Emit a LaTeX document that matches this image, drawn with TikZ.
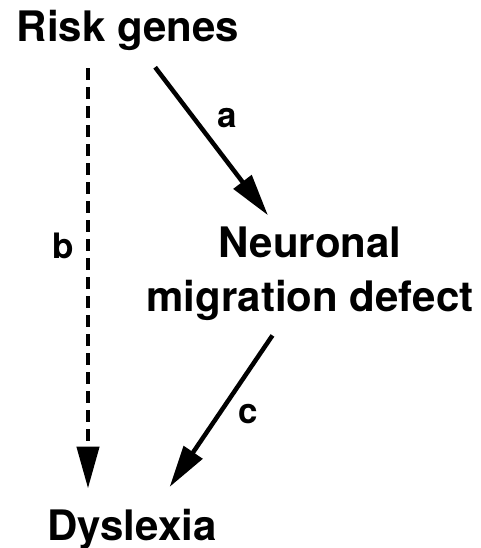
\documentclass[tikz,border=0pt]{standalone}
\usepackage{fontspec}
\setmainfont{TeX Gyre Heros}
\usetikzlibrary{arrows.meta}

\begin{document}
\begin{tikzpicture}[
      x=1pt, y=1pt,
      every node/.style={font=\fontsize{42}{54}\selectfont\bfseries, inner sep=0pt},
      lbl/.style={font=\fontsize{35}{40}\selectfont\bfseries},
      arr/.style={-{Triangle[length=42pt, width=22pt]}, line width=4.5pt}
  ]
    \useasboundingbox (0,0) rectangle (481,548);

    % ---- Terms ----
    \node[anchor=base] (risk) at (128, 506) {Risk genes};
    \node[anchor=base, align=center] (neur) at (310, 236) {Neuronal\\migration defect};
    \node[anchor=base] (dys) at (132, 8) {Dyslexia};

    % ---- Path labels ----
    \node[lbl] (lbla) at (227, 430) {a};
    \node[lbl] (lblb) at (63, 302) {b};
    \node[lbl] (lblc) at (248, 134) {c};

    % Arrows
    \draw[arr, shorten <=20pt, shorten >=15pt]
          ([xshift=15pt]risk.south) -- ([xshift=-33pt]neur.north);
    \draw[arr, dash pattern=on 12pt off 7pt, shorten <=17pt, shorten >=20pt]
          ([xshift=-40pt]risk.south) -- ([xshift=-44pt]dys.north);
    \draw[arr, shorten <=17pt, shorten >=26pt]
          ([xshift=-28pt]neur.south) -- ([xshift=23pt]dys.north);

\end{tikzpicture}
\end{document}
